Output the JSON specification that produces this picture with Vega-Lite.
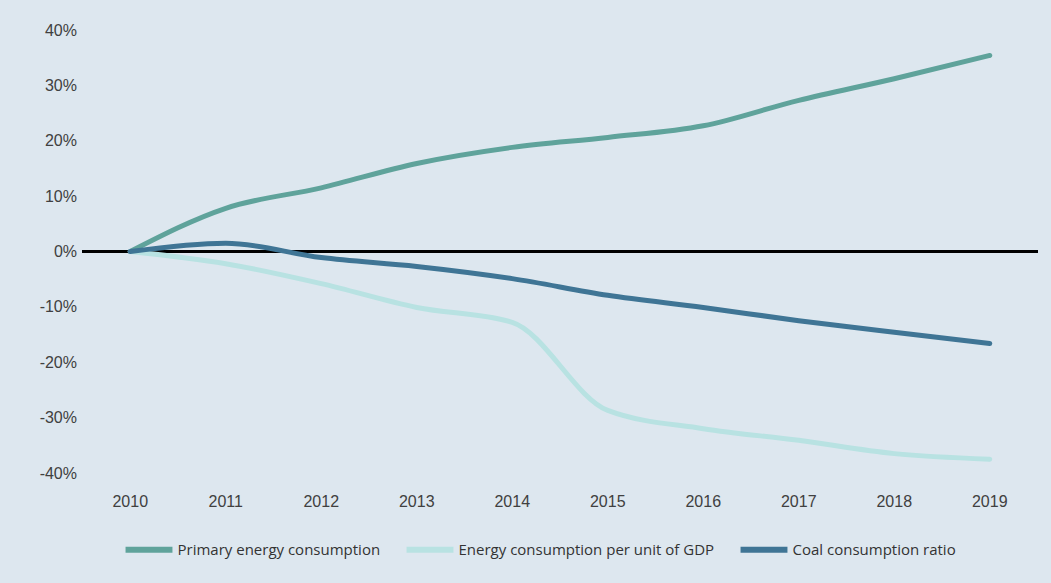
{
  "$schema": "https://vega.github.io/schema/vega-lite/v6.json",
  "width": 955,
  "height": 443,
  "autosize": {"type": "none"},
  "padding": {"left": 82.5, "top": 30, "right": 13.5, "bottom": 110},
  "background": "#dde7ef",
  "config": {
    "view": {"stroke": null},
    "axis": {"grid": false, "domain": false, "ticks": false, "labelFont": "Liberation Sans", "labelFontSize": 16, "labelColor": "#404040", "title": null}
  },
  "data": {
    "values": [
      {"year": "2010", "series": "Primary energy consumption", "value": 0},
      {"year": "2011", "series": "Primary energy consumption", "value": 0.078},
      {"year": "2012", "series": "Primary energy consumption", "value": 0.115},
      {"year": "2013", "series": "Primary energy consumption", "value": 0.159},
      {"year": "2014", "series": "Primary energy consumption", "value": 0.188},
      {"year": "2015", "series": "Primary energy consumption", "value": 0.206},
      {"year": "2016", "series": "Primary energy consumption", "value": 0.227},
      {"year": "2017", "series": "Primary energy consumption", "value": 0.273},
      {"year": "2018", "series": "Primary energy consumption", "value": 0.312},
      {"year": "2019", "series": "Primary energy consumption", "value": 0.354},
      {"year": "2010", "series": "Energy consumption per unit of GDP", "value": 0},
      {"year": "2011", "series": "Energy consumption per unit of GDP", "value": -0.022},
      {"year": "2012", "series": "Energy consumption per unit of GDP", "value": -0.058},
      {"year": "2013", "series": "Energy consumption per unit of GDP", "value": -0.101},
      {"year": "2014", "series": "Energy consumption per unit of GDP", "value": -0.128},
      {"year": "2015", "series": "Energy consumption per unit of GDP", "value": -0.287},
      {"year": "2016", "series": "Energy consumption per unit of GDP", "value": -0.32},
      {"year": "2017", "series": "Energy consumption per unit of GDP", "value": -0.341},
      {"year": "2018", "series": "Energy consumption per unit of GDP", "value": -0.365},
      {"year": "2019", "series": "Energy consumption per unit of GDP", "value": -0.375},
      {"year": "2010", "series": "Coal consumption ratio", "value": 0},
      {"year": "2011", "series": "Coal consumption ratio", "value": 0.015},
      {"year": "2012", "series": "Coal consumption ratio", "value": -0.011},
      {"year": "2013", "series": "Coal consumption ratio", "value": -0.027},
      {"year": "2014", "series": "Coal consumption ratio", "value": -0.049},
      {"year": "2015", "series": "Coal consumption ratio", "value": -0.079},
      {"year": "2016", "series": "Coal consumption ratio", "value": -0.101},
      {"year": "2017", "series": "Coal consumption ratio", "value": -0.125},
      {"year": "2018", "series": "Coal consumption ratio", "value": -0.146},
      {"year": "2019", "series": "Coal consumption ratio", "value": -0.166}
    ]
  },
  "encoding": {
    "x": {"field": "year", "type": "ordinal", "scale": {"type": "band", "paddingInner": 0, "paddingOuter": 0}, "axis": {"labelAngle": 0, "labelPadding": 20}},
    "y": {"field": "value", "type": "quantitative", "scale": {"domain": [-0.4, 0.4], "nice": false}, "axis": {"format": ".0%", "labelExpr": "replace(datum.label, '−', '-')", "values": [-0.4, -0.3, -0.2, -0.1, 0, 0.1, 0.2, 0.3, 0.4], "labelPadding": 6}}
  },
  "layer": [
    {
      "mark": {"type": "rule", "color": "#000000", "strokeWidth": 2},
      "encoding": {"y": {"datum": 0}, "x": null}
    },
    {
      "mark": {"type": "line", "interpolate": "monotone", "strokeWidth": 5, "strokeCap": "round"},
      "encoding": {
        "color": {
          "field": "series",
          "type": "nominal",
          "scale": {"domain": ["Primary energy consumption", "Energy consumption per unit of GDP", "Coal consumption ratio"], "range": ["#5fa39b", "#b8e2e2", "#3f7595"]},
          "legend": {
            "title": null,
            "orient": "none",
            "direction": "horizontal",
            "legendX": 40,
            "legendY": 493,
            "symbolType": "stroke",
            "symbolSize": 2200,
            "symbolStrokeWidth": 6,
            "symbolOpacity": 1,
            "labelFont": "Open Sans",
            "labelFontSize": 15,
            "labelColor": "#333333",
            "labelOffset": 2,
            "columnPadding": 14,
            "labelLimit": 400
          }
        },
        "order": {"field": "year"}
      }
    }
  ]
}
